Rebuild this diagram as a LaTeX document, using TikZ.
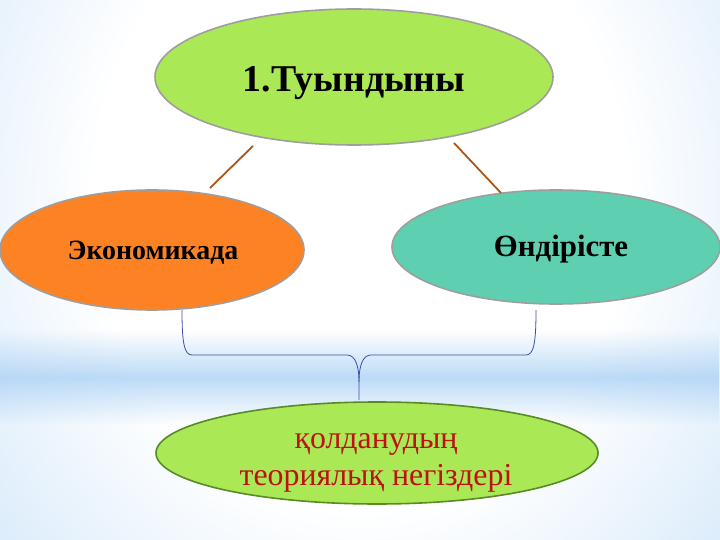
\documentclass[tikz,border=0pt]{standalone}
\usepackage{fontspec}
\setmainfont{Liberation Serif}
\usetikzlibrary{shapes.geometric,fadings}
\definecolor{bg}{RGB}{172,210,245}
\definecolor{lgreen}{RGB}{170,232,86}
\definecolor{orng}{RGB}{253,130,36}
\definecolor{tealc}{RGB}{94,207,176}
\definecolor{olgray}{RGB}{158,158,158}
\definecolor{dgreen}{RGB}{88,138,38}
\definecolor{brn}{RGB}{175,85,20}
\definecolor{brc}{RGB}{62,78,170}
\definecolor{txtred}{RGB}{190,18,18}
\pgfdeclareradialshading{bgshade}{\pgfpoint{0bp}{0bp}}{color(0bp)=(white);color(18bp)=(white);color(50bp)=(bg)}
\tikzfading[name=bandfade, top color=transparent!100, bottom color=transparent!100, middle color=transparent!0]
\tikzset{
  oval/.style={ellipse, draw=olgray, line width=1.6pt, inner sep=0pt},
  bigtxt/.style={anchor=base, inner sep=0pt, font=\fontsize{38}{44}\selectfont\bfseries},
  midtxt/.style={anchor=base, inner sep=0pt, font=\fontsize{28}{32}\selectfont\bfseries},
  lowtxt/.style={anchor=base, inner sep=0pt, text=txtred, font=\fontsize{32}{37}\selectfont},
  link/.style={draw=brn, line width=1.8pt},
  bracket/.style={draw=brc, line width=0.8pt}
}
\begin{document}
\begin{tikzpicture}[x=1bp,y=-1bp]
\useasboundingbox (0,0) rectangle (720,540);
\fill[bg] (0,0) rectangle (720,540);
\shade[shading=bgshade] (-10,-230) rectangle (730,630);
\fill[bg, path fading=bandfade, opacity=0.8] (0,330) rectangle (720,425);
% ovals
\node[oval, fill=lgreen, minimum width=398bp, minimum height=136bp] (T) at (354,77) {};
\node[oval, fill=orng, minimum width=304bp, minimum height=120bp] (L) at (152,250) {};
\node[oval, fill=tealc, minimum width=328bp, minimum height=114bp] (R) at (556,247) {};
\node[oval, draw=dgreen, fill=lgreen, minimum width=442bp, minimum height=102bp] (B) at (377,453) {};
% texts
\node[bigtxt] (tT) at (354,92) {1.Туындыны};
\node[midtxt] (tL) at (153,260) {Экономикада};
\node[midtxt, font=\fontsize{31}{35}\selectfont\bfseries] (tR) at (561,257) {Өндірісте};
\node[lowtxt] (tB1) at (376,448) {қолданудың};
\node[lowtxt] (tB2) at (376,485) {теориялық негіздері};
% links
\coordinate (a1) at (253,146);
\coordinate (a2) at (210,188);
\coordinate (c1) at (454,143);
\coordinate (c2) at (501,193);
\draw[link] (a1) -- (a2);
\draw[link] (c1) -- (c2);
% bracket
\coordinate (bl) at (182,310);
\coordinate (br) at (536,310);
\coordinate (bt) at (359,400);
\draw[bracket] (bl) .. controls (182,342) and (184,355) .. (192,355) -- (347,355)
  .. controls (355,355) and (359,365) .. (359,382) -- (bt);
\draw[bracket] (br) .. controls (536,342) and (534,355) .. (526,355) -- (371,355)
  .. controls (363,355) and (359,365) .. (359,382);
\end{tikzpicture}
\end{document}
